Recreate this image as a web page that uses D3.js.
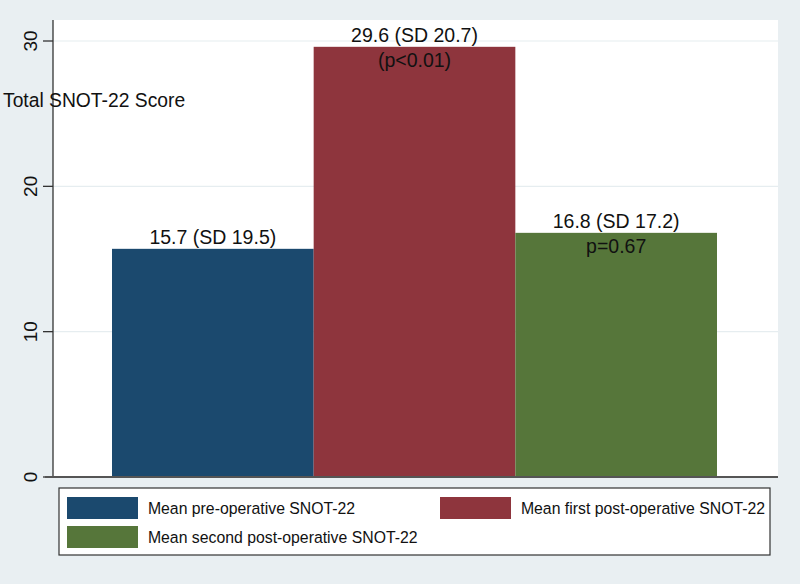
<!DOCTYPE html>
<html>
<head>
<meta charset="utf-8">
<script src="https://cdn.jsdelivr.net/npm/d3@7"></script>
<style>
  body { margin: 0; background: #e9eff2; }
  text { font-family: "Liberation Sans", Arial, sans-serif; fill: #111; }
</style>
</head>
<body>
<script>
var categories = ['Mean pre-operative SNOT-22', 'Mean first post-operative SNOT-22', 'Mean second post-operative SNOT-22'];
var means = [15.7, 29.6, 16.8];
var sds = [19.5, 20.7, 17.2];
var pLabels = ['', '(p<0.01)', 'p=0.67'];
var colors = ['#1b496e', '#8e353d', '#56763a'];
var yTicks = [0, 10, 20, 30];

var width = 800, height = 584;

var svg = d3.select('body').append('svg')
    .attr('width', width)
    .attr('height', height);

svg.append('rect').attr('width', width).attr('height', height).attr('fill', '#e9eff2');

// plot region
var plotLeft = 53, plotRight = 778, plotTop = 20, plotBottom = 477;
svg.append('rect')
    .attr('x', plotLeft).attr('y', plotTop)
    .attr('width', plotRight - plotLeft).attr('height', plotBottom - plotTop)
    .attr('fill', '#fff');

var y = d3.scaleLinear().domain([0, 30]).range([477, 41]);
var x = d3.scaleBand().domain(categories).range([112, 717]).padding(0);

// gridlines
svg.selectAll('.grid').data(yTicks.filter(d => d > 0)).enter().append('line')
    .attr('x1', plotLeft).attr('x2', plotRight)
    .attr('y1', d => y(d)).attr('y2', d => y(d))
    .attr('stroke', '#e6edf0').attr('stroke-width', 1.2);

// bars
svg.selectAll('.bar').data(categories).enter().append('rect')
    .attr('x', d => x(d))
    .attr('width', x.bandwidth())
    .attr('y', (d, i) => y(means[i]))
    .attr('height', (d, i) => y(0) - y(means[i]))
    .attr('fill', (d, i) => colors[i]);

// bar labels
svg.selectAll('.lab').data(categories).enter().append('text')
    .attr('x', d => x(d) + x.bandwidth() / 2)
    .attr('y', (d, i) => y(means[i]) - 5)
    .attr('text-anchor', 'middle')
    .attr('font-size', 19.5)
    .text((d, i) => means[i].toFixed(1) + ' (SD ' + sds[i].toFixed(1) + ')');

svg.selectAll('.plab').data(categories).enter().append('text')
    .attr('x', d => x(d) + x.bandwidth() / 2)
    .attr('y', (d, i) => y(means[i]) + 20)
    .attr('text-anchor', 'middle')
    .attr('font-size', 19.5)
    .text((d, i) => pLabels[i]);

// y axis
var yAxis = svg.append('g').attr('transform', 'translate(' + plotLeft + ',0)');
yAxis.append('line')
    .attr('x1', 0).attr('x2', 0).attr('y1', plotTop).attr('y2', plotBottom)
    .attr('stroke', '#333').attr('stroke-width', 1.3);
yAxis.selectAll('.tick').data(yTicks).enter().append('line')
    .attr('x1', -10).attr('x2', 0)
    .attr('y1', d => y(d)).attr('y2', d => y(d))
    .attr('stroke', '#333').attr('stroke-width', 1.3);
yAxis.selectAll('.tl').data(yTicks).enter().append('text')
    .attr('transform', d => 'translate(-16,' + y(d) + ') rotate(-90)')
    .attr('text-anchor', 'middle')
    .attr('font-size', 19)
    .text(d => d);

// x axis line
svg.append('line')
    .attr('x1', 45).attr('x2', plotRight)
    .attr('y1', plotBottom).attr('y2', plotBottom)
    .attr('stroke', '#555').attr('stroke-width', 2);

// y title
svg.append('text')
    .attr('x', 3).attr('y', 107)
    .attr('font-size', 19.3)
    .text('Total SNOT-22 Score');

// legend
var legend = svg.append('g');
legend.append('rect')
    .attr('x', 59).attr('y', 488).attr('width', 711).attr('height', 67)
    .attr('fill', '#fff').attr('stroke', '#333').attr('stroke-width', 1.2);
var legPos = [[67, 497], [440, 497], [67, 526]];
var items = legend.selectAll('.li').data(categories).enter().append('g')
    .attr('transform', (d, i) => 'translate(' + legPos[i][0] + ',' + legPos[i][1] + ')');
items.append('rect')
    .attr('width', 71).attr('height', 22)
    .attr('fill', (d, i) => colors[i]);
items.append('text')
    .attr('x', 87).attr('y', 17)
    .attr('font-size', 17)
    .attr('transform', 'scale(0.93,1)')
    .text(d => d);
</script>
</body>
</html>
